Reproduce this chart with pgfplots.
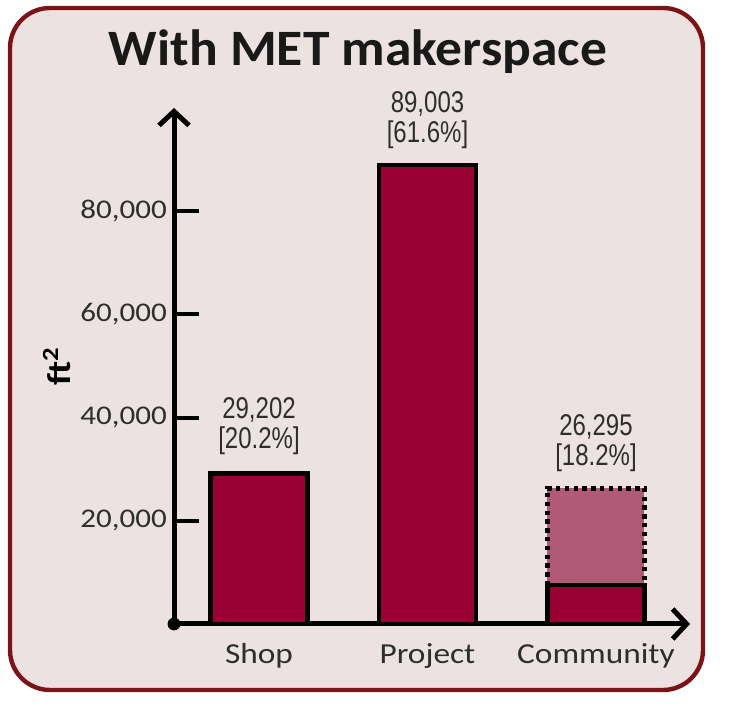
\documentclass[border=0pt]{standalone}
\usepackage{pgfplots}
\pgfplotsset{compat=1.18}
\usetikzlibrary{arrows.meta}
\usepackage{fontspec}
\setmainfont{Carlito}[FakeStretch=1.15]
\newfontfamily\titlefont{Carlito}[FakeStretch=1.05]
\newfontfamily\narrowfont{Liberation Sans}[FakeStretch=0.8]

\definecolor{barred}{HTML}{990033}
\definecolor{barlight}{HTML}{B05A78}
\definecolor{framebg}{HTML}{EDE2E2}
\definecolor{frameline}{HTML}{7B1416}
\definecolor{labelgray}{HTML}{2E2E2E}

\begin{document}
\begin{tikzpicture}
% page size: 732 x 710 px at 0.5pt per px
\path (0,0) rectangle (366pt,355pt);
\draw[frameline, line width=2.2pt, fill=framebg, rounded corners=20pt]
  (5pt,351pt) rectangle (351.5pt,10pt);
\node[font=\titlefont\bfseries\fontsize{25.5}{30}\selectfont, text=black!90]
  at (179pt,329pt) {With MET makerspace};

\begin{axis}[
    at={(87pt,43pt)}, anchor=south west,
    scale only axis, width=258pt, height=258pt,
    xmin=0.4955, xmax=3.558, ymin=0, ymax=100000,
    axis lines=left,
    axis line style={black, line width=2.5pt,
      -{Straight Barb[length=7pt, width=15pt, line width=2.5pt]}},
    clip=false,
    tick align=inside, major tick length=12.5pt,
    scaled y ticks=false,
    ytick={20000,40000,60000,80000},
    yticklabels={{20,000},{40,000},{60,000},{80,000}},
    ytick style={black, line width=2pt},
    yticklabel style={font=\fontsize{13.5}{15}\selectfont, text=labelgray},
    xtick={1,2,3}, xticklabels={Shop,Project,Community},
    xtick style={draw=none},
    xticklabel style={font=\fontsize{14.5}{16}\selectfont, text=labelgray, yshift=-6pt},
    ylabel={\textbf{ft\textsuperscript{2}}},
    ylabel style={at={(axis description cs:-0.227,0.5)}, anchor=center,
      font=\fontsize{16.5}{18}\selectfont, text=black},
  ]
  % community total (lighter, dotted outline)
  \addplot[ybar, bar width=48.5pt, bar shift=0pt, fill=barlight, draw=black,
    line width=2.2pt, dash pattern=on 2.2pt off 2.2pt] coordinates {(3,26295)};
  % solid bars
  \addplot[ybar, bar width=48.5pt, bar shift=0pt, fill=barred, draw=black,
    line width=2.2pt] coordinates {(1,29202) (2,89003) (3,7500)};
  % origin dot
  \addplot[only marks, mark=*, mark size=3pt, black] coordinates {(0.4955,0)};

  \node[anchor=south, align=center, inner sep=0pt, yshift=9pt, text=labelgray,
    font=\narrowfont\fontsize{15}{15}\selectfont] at (axis cs:1,29202) {29,202\\{[20.2\%]}};
  \node[anchor=south, align=center, inner sep=0pt, yshift=8pt, text=labelgray,
    font=\narrowfont\fontsize{15}{15}\selectfont] at (axis cs:2,89003) {89,003\\{[61.6\%]}};
  \node[anchor=south, align=center, inner sep=0pt, yshift=8pt, text=labelgray,
    font=\narrowfont\fontsize{15}{15}\selectfont] at (axis cs:3,26295) {26,295\\{[18.2\%]}};
\end{axis}
\end{tikzpicture}
\end{document}
